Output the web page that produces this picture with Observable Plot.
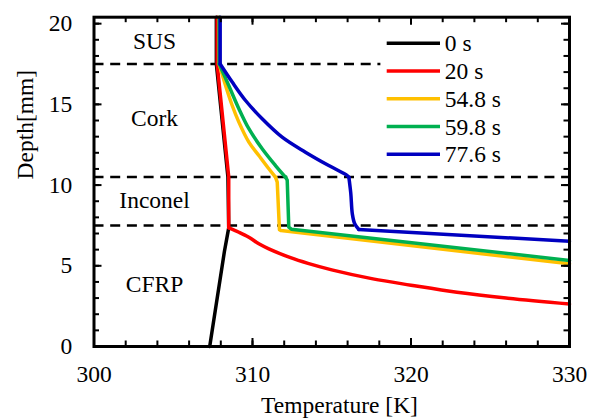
<!DOCTYPE html>
<html><head><meta charset="utf-8">
<script src="https://cdn.jsdelivr.net/npm/d3@7"></script>
<script src="https://cdn.jsdelivr.net/npm/@observablehq/plot@0.6"></script>
<style>
body{margin:0;background:#fff}
#wrap{position:relative;width:596px;height:419px}
</style>
</head><body><div id="wrap"></div>
<script>
// ---- data ----
const seriesNames  = ["0 s", "20 s", "54.8 s", "59.8 s", "77.6 s"];
const seriesColors = ["#000000", "#ff0000", "#ffc000", "#00b050", "#0000c0"];

const temp0   = [307.3, 308.23, 308.5, 308.45, 307.72, 307.72];
const depth0  = [0, 5.9, 7.35, 10.5, 17.5, 20.4];

const temp20  = [307.77, 307.77, 308.5, 308.5, 309.14, 309.77, 310.4, 311.03, 312.4, 313.5, 315, 317.6, 320, 322.9, 326, 330];
const depth20 = [20.4, 17.5, 10.5, 7.35, 7.08, 6.77, 6.36, 6.05, 5.5, 5.15, 4.75, 4.19, 3.8, 3.36, 3.0, 2.63];

const temp548  = [307.9, 307.9, 308.30, 308.72, 309.14, 309.77, 310.40, 311.03, 311.45, 311.56, 311.70, 311.8, 330];
const depth548 = [20.4, 17.5, 16.17, 14.93, 13.90, 12.66, 11.83, 11.01, 10.49, 10.18, 7.23, 7.18, 5.12];

const temp598  = [307.9, 307.9, 308.50, 309.14, 309.77, 310.61, 311.45, 312.08, 312.19, 312.29, 312.45, 330];
const depth598 = [20.4, 17.5, 16.17, 14.73, 13.49, 12.25, 11.21, 10.49, 10.3, 7.39, 7.27, 5.33];

const temp776  = [307.96, 307.96, 308.72, 309.56, 310.61, 311.87, 313.34, 314.81, 315.98, 316.08, 316.2, 316.3, 316.45, 316.7, 330];
const depth776 = [20.4, 17.5, 16.38, 15.24, 14.11, 12.97, 12.04, 11.21, 10.59, 10.49, 9.5, 8.2, 7.6, 7.25, 6.52];

// which point ranges of each series are drawn smoothed (start index, end index)
const smoothRanges = [[], [[3, 15]], [[1, 8]], [[1, 7]], [[1, 9], [9, 13]]];

const layerNames = ["SUS", "Cork", "Inconel", "CFRP"];
const layerLabelDepth = [18.91, 14.13, 9.03, 3.85];
const layerLabelTemp = 303.82;
const boundaryFull = [10.5, 7.5];
const boundaryTop = 17.5;
const boundaryTopEnd = 318.1;

const xLabels = [300, 310, 320, 330];
const yLabels = [0, 5, 10, 15, 20];
const xMinor = d3.range(300, 331, 2);
const yMinor = d3.range(0, 21, 1);

// ---- layout ----
const W = 596, H = 419, mt = 16.7, mr = 27, mb = 73, ml = 93.5;
const fw = W - ml - mr, fh = H - mt - mb;
const FONT = "Liberation Serif, Times New Roman, serif";
const FS = 23.5;

const temps = [temp0, temp20, temp548, temp598, temp776];
const depths = [depth0, depth20, depth548, depth598, depth776];

// split each series into linear and smoothed pieces (sharing end points)
function pieces(i) {
  const n = temps[i].length;
  const rows = temps[i].map((t, j) => ({series: seriesNames[i], T: t, depth: depths[i][j]}));
  const sm = smoothRanges[i];
  const out = [];
  let j = 0;
  const sorted = sm.slice().sort((a, b) => a[0] - b[0]);
  for (const [a, b] of sorted) {
    if (a > j) out.push({rows: rows.slice(j, a + 1), curve: "linear"});
    out.push({rows: rows.slice(a, b + 1), curve: "catmull-rom"});
    j = b;
  }
  if (j < n - 1) out.push({rows: rows.slice(j), curve: "linear"});
  return out;
}

const lineMarks = [];
seriesNames.forEach((name, i) => {
  for (const p of pieces(i)) {
    lineMarks.push(Plot.line(p.rows, {x: "T", y: "depth", stroke: seriesColors[i], strokeWidth: 3.5,
      strokeLinejoin: "round", strokeLinecap: "round", curve: p.curve}));
  }
});

const tickStyle = {stroke: "black", strokeWidth: 2};
const txt = {fontSize: FS, fontFamily: FONT, fill: "black", lineAnchor: "middle"};

// legend placement (inside the plot area, top right)
const legendX = 386.7, legendLineW = 53.3, legendTextX = 444.3, legendY0 = 43.3, legendStep = 27.75;
const legendMarks = seriesNames.map((name, i) =>
  Plot.text([name], {frameAnchor: "top-left", dx: legendTextX - ml, dy: legendY0 + i * legendStep - mt,
    textAnchor: "start", ...txt}));

const marks = [
  Plot.ruleY(boundaryFull, {y: d => d, stroke: "black", strokeWidth: 2.5, strokeDasharray: "10,6.7"}),
  Plot.ruleY([boundaryTop], {y: d => d, x1: 300, x2: boundaryTopEnd, stroke: "black", strokeWidth: 2.5, strokeDasharray: "10,6.7"}),
  ...lineMarks,
  // ticks (inward, on all four sides)
  Plot.ruleX(xMinor, {x: d => d, insetTop: fh - 5.5, ...tickStyle}),
  Plot.ruleX(xLabels, {x: d => d, insetTop: fh - 8, ...tickStyle}),
  Plot.ruleX(xMinor, {x: d => d, insetBottom: fh - 5.5, ...tickStyle}),
  Plot.ruleX(xLabels, {x: d => d, insetBottom: fh - 8, ...tickStyle}),
  Plot.ruleY(yMinor, {y: d => d, insetRight: fw - 5.5, ...tickStyle}),
  Plot.ruleY(yLabels, {y: d => d, insetRight: fw - 8, ...tickStyle}),
  Plot.ruleY(yMinor, {y: d => d, insetLeft: fw - 5.5, ...tickStyle}),
  Plot.ruleY(yLabels, {y: d => d, insetLeft: fw - 8, ...tickStyle}),
  Plot.frame({stroke: "black", strokeWidth: 3}),
  // tick labels
  Plot.text(xLabels, {x: d => d, text: d => String(d), frameAnchor: "bottom", dy: 28, ...txt}),
  Plot.text(yLabels, {y: d => d, text: d => String(d), frameAnchor: "left", dx: -21.8, textAnchor: "end", ...txt}),
  // axis titles
  Plot.text(["Temperature [K]"], {frameAnchor: "bottom", dx: 7.75, dy: 59, ...txt}),
  Plot.text(["Depth[mm]"], {frameAnchor: "left", dx: -68.8, dy: -2.4, rotate: -90, ...txt}),
  // layer labels
  Plot.text(layerNames, {x: () => layerLabelTemp, y: (d, i) => layerLabelDepth[i], text: d => d, ...txt}),
  ...legendMarks
];

const chart = Plot.plot({
  width: W, height: H,
  marginTop: mt, marginRight: mr, marginBottom: mb, marginLeft: ml,
  x: {domain: [300, 330], axis: null},
  y: {domain: [0, 20.4], axis: null},
  style: {background: "white", overflow: "visible"},
  marks
});
document.getElementById("wrap").appendChild(chart);

// legend swatches
const lg = d3.select(chart).append("g").attr("class", "legend-swatches");
seriesNames.forEach((name, i) => {
  const y = legendY0 + i * legendStep;
  lg.append("line").attr("x1", legendX).attr("x2", legendX + legendLineW)
    .attr("y1", y).attr("y2", y).attr("stroke", seriesColors[i]).attr("stroke-width", 3.5);
});
</script>
</body></html>
